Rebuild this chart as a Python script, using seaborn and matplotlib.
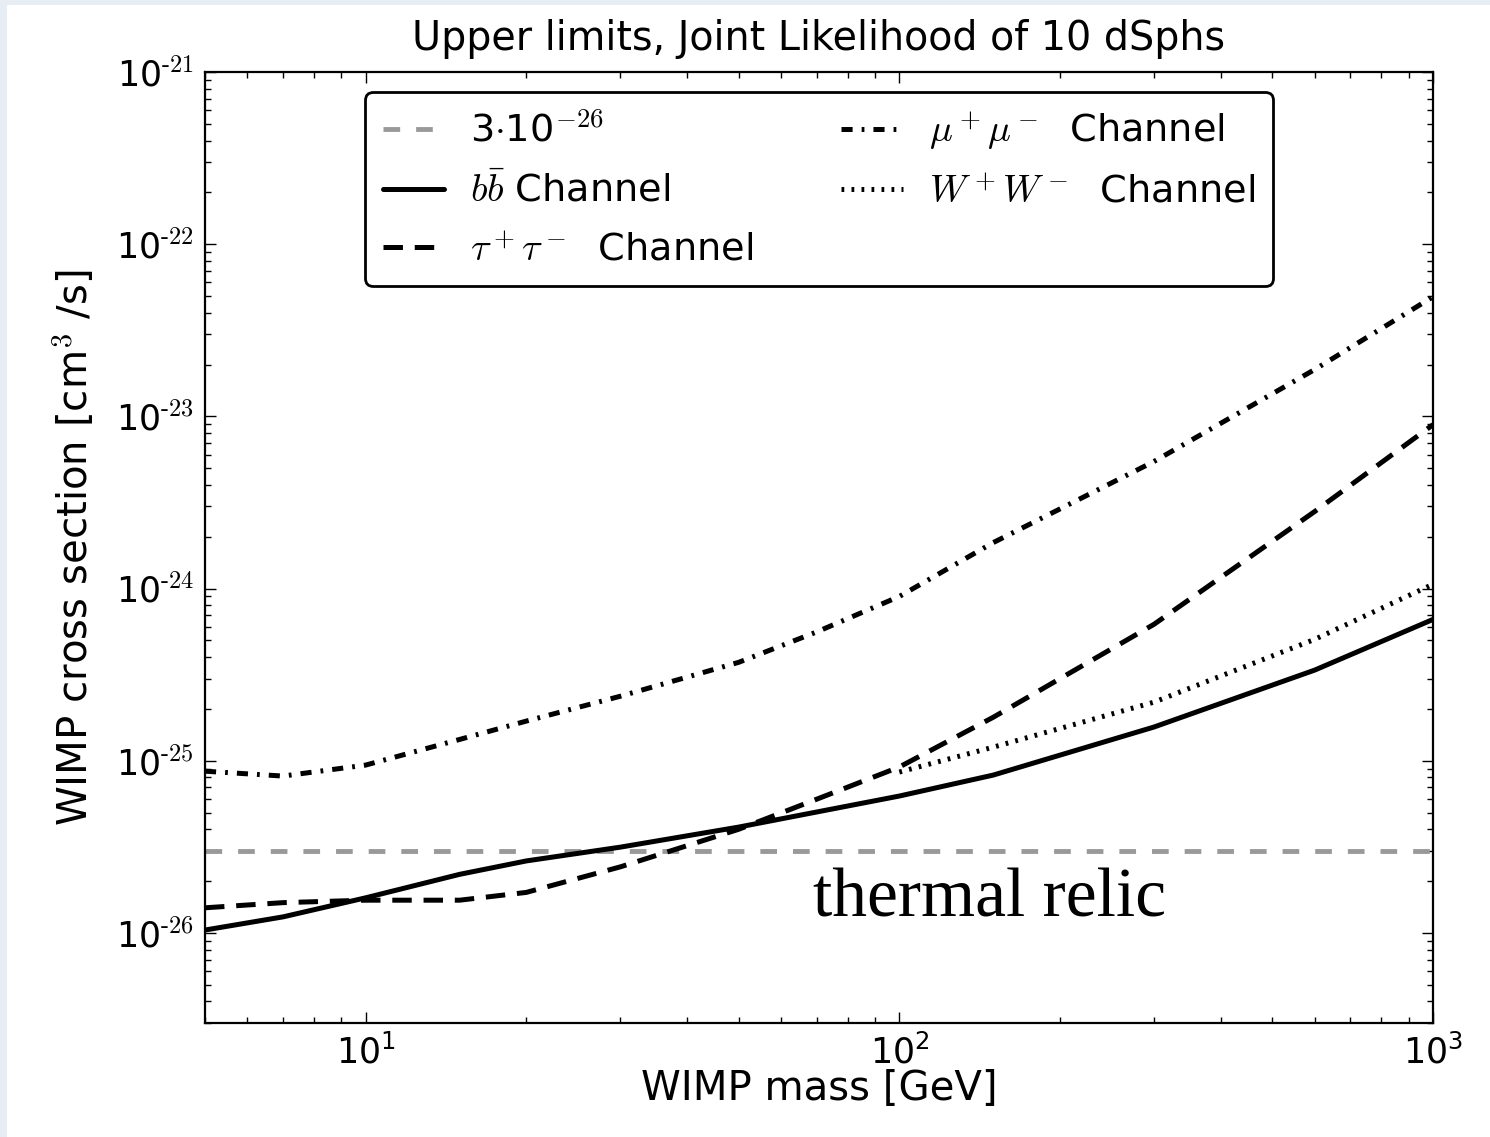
import numpy as np
import pandas as pd
import matplotlib
matplotlib.use('Agg')
import matplotlib.pyplot as plt
import seaborn as sns
from matplotlib.patches import Rectangle
from matplotlib.ticker import FixedLocator, FixedFormatter, LogLocator, NullFormatter

# WIMP mass [GeV]
mass_low = [5, 7, 10, 15, 20, 30, 50, 70, 100, 150, 300, 600, 1000]
mass_high = [100, 150, 300, 600, 1000]

# upper limits on <sigma v> [cm^3/s]
bb_limit = [1.04e-26, 1.24e-26, 1.60e-26, 2.19e-26, 2.62e-26, 3.15e-26, 4.12e-26,
            5.04e-26, 6.24e-26, 8.26e-26, 1.57e-25, 3.36e-25, 6.62e-25]
tautau_limit = [1.40e-26, 1.50e-26, 1.55e-26, 1.55e-26, 1.72e-26, 2.42e-26, 4.0e-26,
                5.98e-26, 9.2e-26, 1.79e-25, 6.2e-25, 2.8e-24, 8.95e-24]
mumu_limit = [8.7e-26, 8.15e-26, 9.44e-26, 1.33e-25, 1.70e-25, 2.37e-25, 3.73e-25,
              5.6e-25, 9.0e-25, 1.85e-24, 5.47e-24, 1.87e-23, 4.95e-23]
ww_limit = [8.6e-26, 1.2e-25, 2.19e-25, 5.07e-25, 1.06e-24]

thermal_relic = 3e-26

y_decades = [1e-26, 1e-25, 1e-24, 1e-23, 1e-22, 1e-21]
y_ticklabels = ['-26', '-25', '-24', '-23', '-22', '-21']

df_low = pd.DataFrame({'mass': mass_low, 'bb': bb_limit, 'tautau': tautau_limit, 'mumu': mumu_limit})
df_high = pd.DataFrame({'mass': mass_high, 'ww': ww_limit})

sns.set_theme(style='ticks')
plt.rcParams['font.family'] = ['DejaVu Sans']
plt.rcParams['mathtext.fontset'] = 'cm'
plt.rcParams['lines.scale_dashes'] = False
for key in ['text.color', 'axes.labelcolor', 'xtick.color', 'ytick.color', 'axes.edgecolor']:
    plt.rcParams[key] = 'black'

fig = plt.figure(figsize=(14.9, 11.37), dpi=100, facecolor='#e6edf5')
bg = Rectangle((7 / 1490, 0), 1, 1 - 5 / 1137, transform=fig.transFigure,
               facecolor='white', edgecolor='none', zorder=-10)
fig.add_artist(bg)
ax = fig.add_axes([205 / 1490, 1 - 1023 / 1137, 1228 / 1490, 951 / 1137])
ax.set_facecolor('white')

ax.axhline(thermal_relic, color='#999999', lw=3.5, linestyle=(0, (12, 11.5)),
           label=r'3$\cdot$10$^{-26}$')
sns.lineplot(data=df_low, x='mass', y='bb', ax=ax, color='black', lw=3.6,
             label=r'$b\bar{b}$ Channel')
sns.lineplot(data=df_low, x='mass', y='tautau', ax=ax, color='black', lw=3.6,
             linestyle=(0, (14, 8.5)), label=r'$\tau^+\tau^-$  Channel')
sns.lineplot(data=df_low, x='mass', y='mumu', ax=ax, color='black', lw=3.6,
             linestyle=(0, (8, 6.5, 2.0, 6.5)), label=r'$\mu^+\mu^-$  Channel')
sns.lineplot(data=df_high, x='mass', y='ww', ax=ax, color='black', lw=3.6,
             linestyle=(0, (2.0, 5.2)), label=r'$W^+W^-$  Channel')

ax.set_xscale('log')
ax.set_yscale('log')
ax.set_xlim(5, 1000)
ax.set_ylim(3e-27, 1e-21)

ax.yaxis.set_major_locator(FixedLocator(y_decades))
ax.yaxis.set_major_formatter(FixedFormatter(
    [r'$\mathdefault{10^{\text{%s}}}$' % s for s in y_ticklabels]))
ax.yaxis.set_minor_locator(LogLocator(base=10, subs=np.arange(2, 10), numticks=20))
ax.yaxis.set_minor_formatter(NullFormatter())

ax.tick_params(which='both', direction='in', top=True, right=True, width=1.0)
ax.tick_params(which='major', length=8, labelsize=25, pad=8)
ax.tick_params(which='minor', length=4)
for sp in ax.spines.values():
    sp.set_linewidth(1.6)

ax.set_title('Upper limits, Joint Likelihood of 10 dSphs', fontsize=28.5, pad=16)
ax.set_xlabel('WIMP mass [GeV]', fontsize=29, labelpad=-1)
ax.set_ylabel(r'WIMP cross section [cm$^3$ /s]', fontsize=29, labelpad=14)

ax.text(69, 1.24e-26, 'thermal relic', family='Liberation Serif', fontsize=50,
        va='baseline', ha='left', color='black')

leg = ax.legend(loc='upper center', bbox_to_anchor=(0.5, 0.979), ncol=2, fontsize=27.5,
                frameon=True, fancybox=True, borderaxespad=0, borderpad=0.45,
                handlelength=1.6, handletextpad=0.7, columnspacing=2.3, labelspacing=0.6)
leg.get_frame().set_edgecolor('black')
leg.get_frame().set_linewidth(2)
leg.get_frame().set_alpha(1)

fig.savefig('out.png', dpi=100, facecolor=fig.get_facecolor())
